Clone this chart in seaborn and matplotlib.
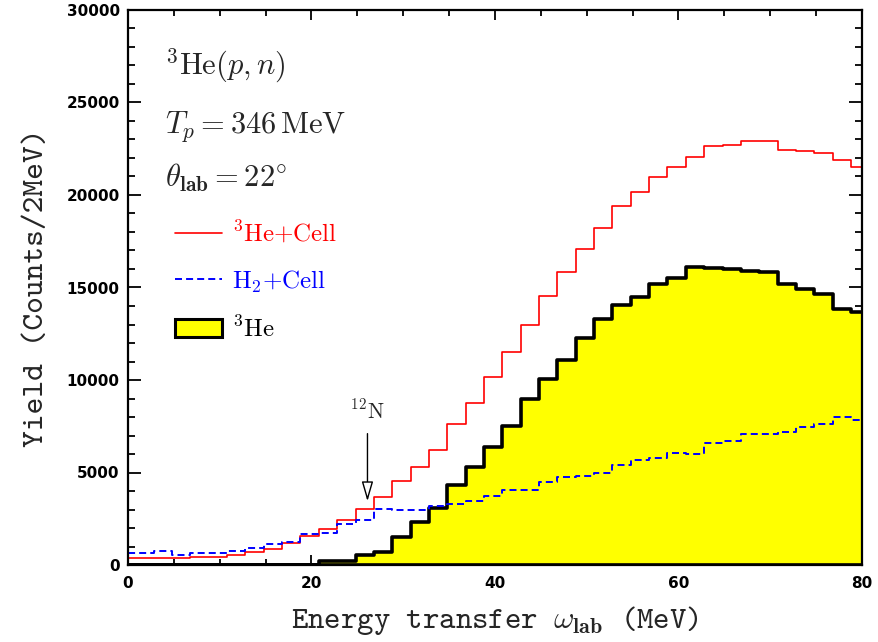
import numpy as np
import pandas as pd
import matplotlib
matplotlib.use("Agg")
import matplotlib.pyplot as plt
import seaborn as sns
from matplotlib.lines import Line2D
from matplotlib.patches import Patch
from matplotlib.ticker import MultipleLocator

# 2 MeV bins (centres) of the energy transfer omega_lab
omega_mev = np.arange(-0.2, 80.0, 2.0)
bin_edges = [round(float(v), 1) for v in np.arange(-1.2, 81.0, 2.0)]

# 3He + cell (red solid)
he3_cell = [395, 395, 395, 395, 450, 450, 525, 685, 890, 1190,
            1570, 1920, 2430, 3010, 3690, 4520, 5280, 6220, 7600, 8775,
            10140, 11530, 12990, 14540, 15820, 17060, 18230, 19420, 20160, 20970,
            21530, 22070, 22650, 22700, 22940, 22920, 22410, 22400, 22290, 21890,
            21500]
# H2 + cell (blue dashed)
h2_cell = [630, 630, 775, 540, 667, 667, 775, 900, 1150, 1270,
           1650, 1710, 2240, 2430, 3010, 3000, 2950, 3190, 3280, 3480,
           3720, 4050, 4060, 4500, 4760, 4800, 4990, 5430, 5680, 5770,
           6030, 6000, 6600, 6680, 7080, 7080, 7170, 7480, 7620, 8020,
           7840]
# 3He (yellow, black outline)
he3 = [0, 0, 0, 0, 0, 0, 0, 0, 0, 0,
       0, 200, 210, 560, 700, 1510, 2340, 3060, 4320, 5310,
       6400, 7530, 8990, 10030, 11080, 12250, 13280, 14050, 14470, 15170,
       15510, 16110, 16040, 15980, 15870, 15840, 15210, 14920, 14650, 13840,
       13690]

legend_labels = [r"$^{3}$He+Cell", r"H$_{2}$+Cell", r"$^{3}$He"]

sns.set_theme(style="ticks")
plt.rcParams["font.family"] = ["DejaVu Sans"]
plt.rcParams["mathtext.fontset"] = "cm"
plt.rcParams["axes.unicode_minus"] = False

df = pd.DataFrame({"omega": omega_mev, "he3_cell": he3_cell,
                   "h2_cell": h2_cell, "he3": he3})

fig = plt.figure(figsize=(8.79, 6.42), dpi=100)
ax = fig.add_axes([128 / 879, 1 - 565 / 642, 734 / 879, 555 / 642])

sns.histplot(data=df, x="omega", weights="he3", bins=bin_edges, element="step",
             fill=True, color="#ffff00", edgecolor="black", linewidth=2.6,
             alpha=1, ax=ax, zorder=1)
sns.histplot(data=df, x="omega", weights="he3_cell", bins=bin_edges, element="step",
             fill=False, color="#ff0000", linewidth=1.2, ax=ax, zorder=3)
sns.histplot(data=df, x="omega", weights="h2_cell", bins=bin_edges, element="step",
             fill=False, color="#0000ff", linewidth=1.4, linestyle=(0, (3.6, 2.1)),
             ax=ax, zorder=3)

ax.set_xlim(0, 80)
ax.set_ylim(0, 30000)
ax.xaxis.set_major_locator(MultipleLocator(20))
ax.xaxis.set_minor_locator(MultipleLocator(5))
ax.yaxis.set_major_locator(MultipleLocator(5000))
ax.yaxis.set_minor_locator(MultipleLocator(1000))
ax.tick_params(which="both", direction="in", top=True, right=True,
               width=1.3, color="black")
ax.tick_params(axis="x", which="major", length=7, pad=8)
ax.tick_params(axis="x", which="minor", length=4)
ax.tick_params(axis="y", which="major", length=9.5, pad=6)
ax.tick_params(axis="y", which="minor", length=5)
for lab in ax.get_xticklabels() + ax.get_yticklabels():
    lab.set_fontweight("bold")
    lab.set_fontsize(11)
    lab.set_color("black")
for sp in ax.spines.values():
    sp.set_linewidth(1.6)
    sp.set_color("black")
    sp.set_zorder(5)

ax.set_xlabel(r"Energy transfer $\omega_{\mathbf{lab}}$ (MeV)",
              family="cmtt10", fontsize=22.5, labelpad=9)
ax.set_ylabel("Yield (Counts/2MeV)", family="cmtt10", fontsize=23, labelpad=12)

# reaction info
ax.text(0.05, 0.883, r"$^{3}\mathrm{He}(p,n)$", transform=ax.transAxes,
        fontsize=22, va="baseline", ha="left")
ax.text(0.05, 0.779, r"$T_{p} = 346\,\mathrm{MeV}$", transform=ax.transAxes,
        fontsize=22, va="baseline", ha="left")
ax.text(0.05, 0.6816, r"$\theta_{\mathbf{lab}} = 22^{\circ}$", transform=ax.transAxes,
        fontsize=22, va="baseline", ha="left")

# 12N marker
ax.annotate("", xy=(26.1, 3450), xytext=(26.1, 7100),
            arrowprops=dict(arrowstyle="-|>,head_length=1.2,head_width=0.35",
                            fc="white", ec="black", lw=1.0,
                            shrinkA=0, shrinkB=0, mutation_scale=10),
            zorder=4)
ax.text(26.1, 7900, r"$^{12}$N", family="cmr10", fontsize=15.5,
        ha="center", va="baseline")

handles = [Line2D([], [], color="#ff0000", lw=1.2),
           Line2D([], [], color="#0000ff", lw=1.4, linestyle=(0, (3.6, 2.1))),
           Patch(facecolor="#ffff00", edgecolor="black", linewidth=2.2)]
ax.legend(handles, legend_labels, loc="upper left", bbox_to_anchor=(0.064, 0.621),
          frameon=False, prop={"family": "cmr10", "size": 18},
          labelcolor=["#ff0000", "#0000ff", "black"], handlelength=1.9,
          handleheight=0.75, handletextpad=0.4, labelspacing=0.86,
          borderpad=0, borderaxespad=0)

fig.savefig("out.png", dpi=100)
